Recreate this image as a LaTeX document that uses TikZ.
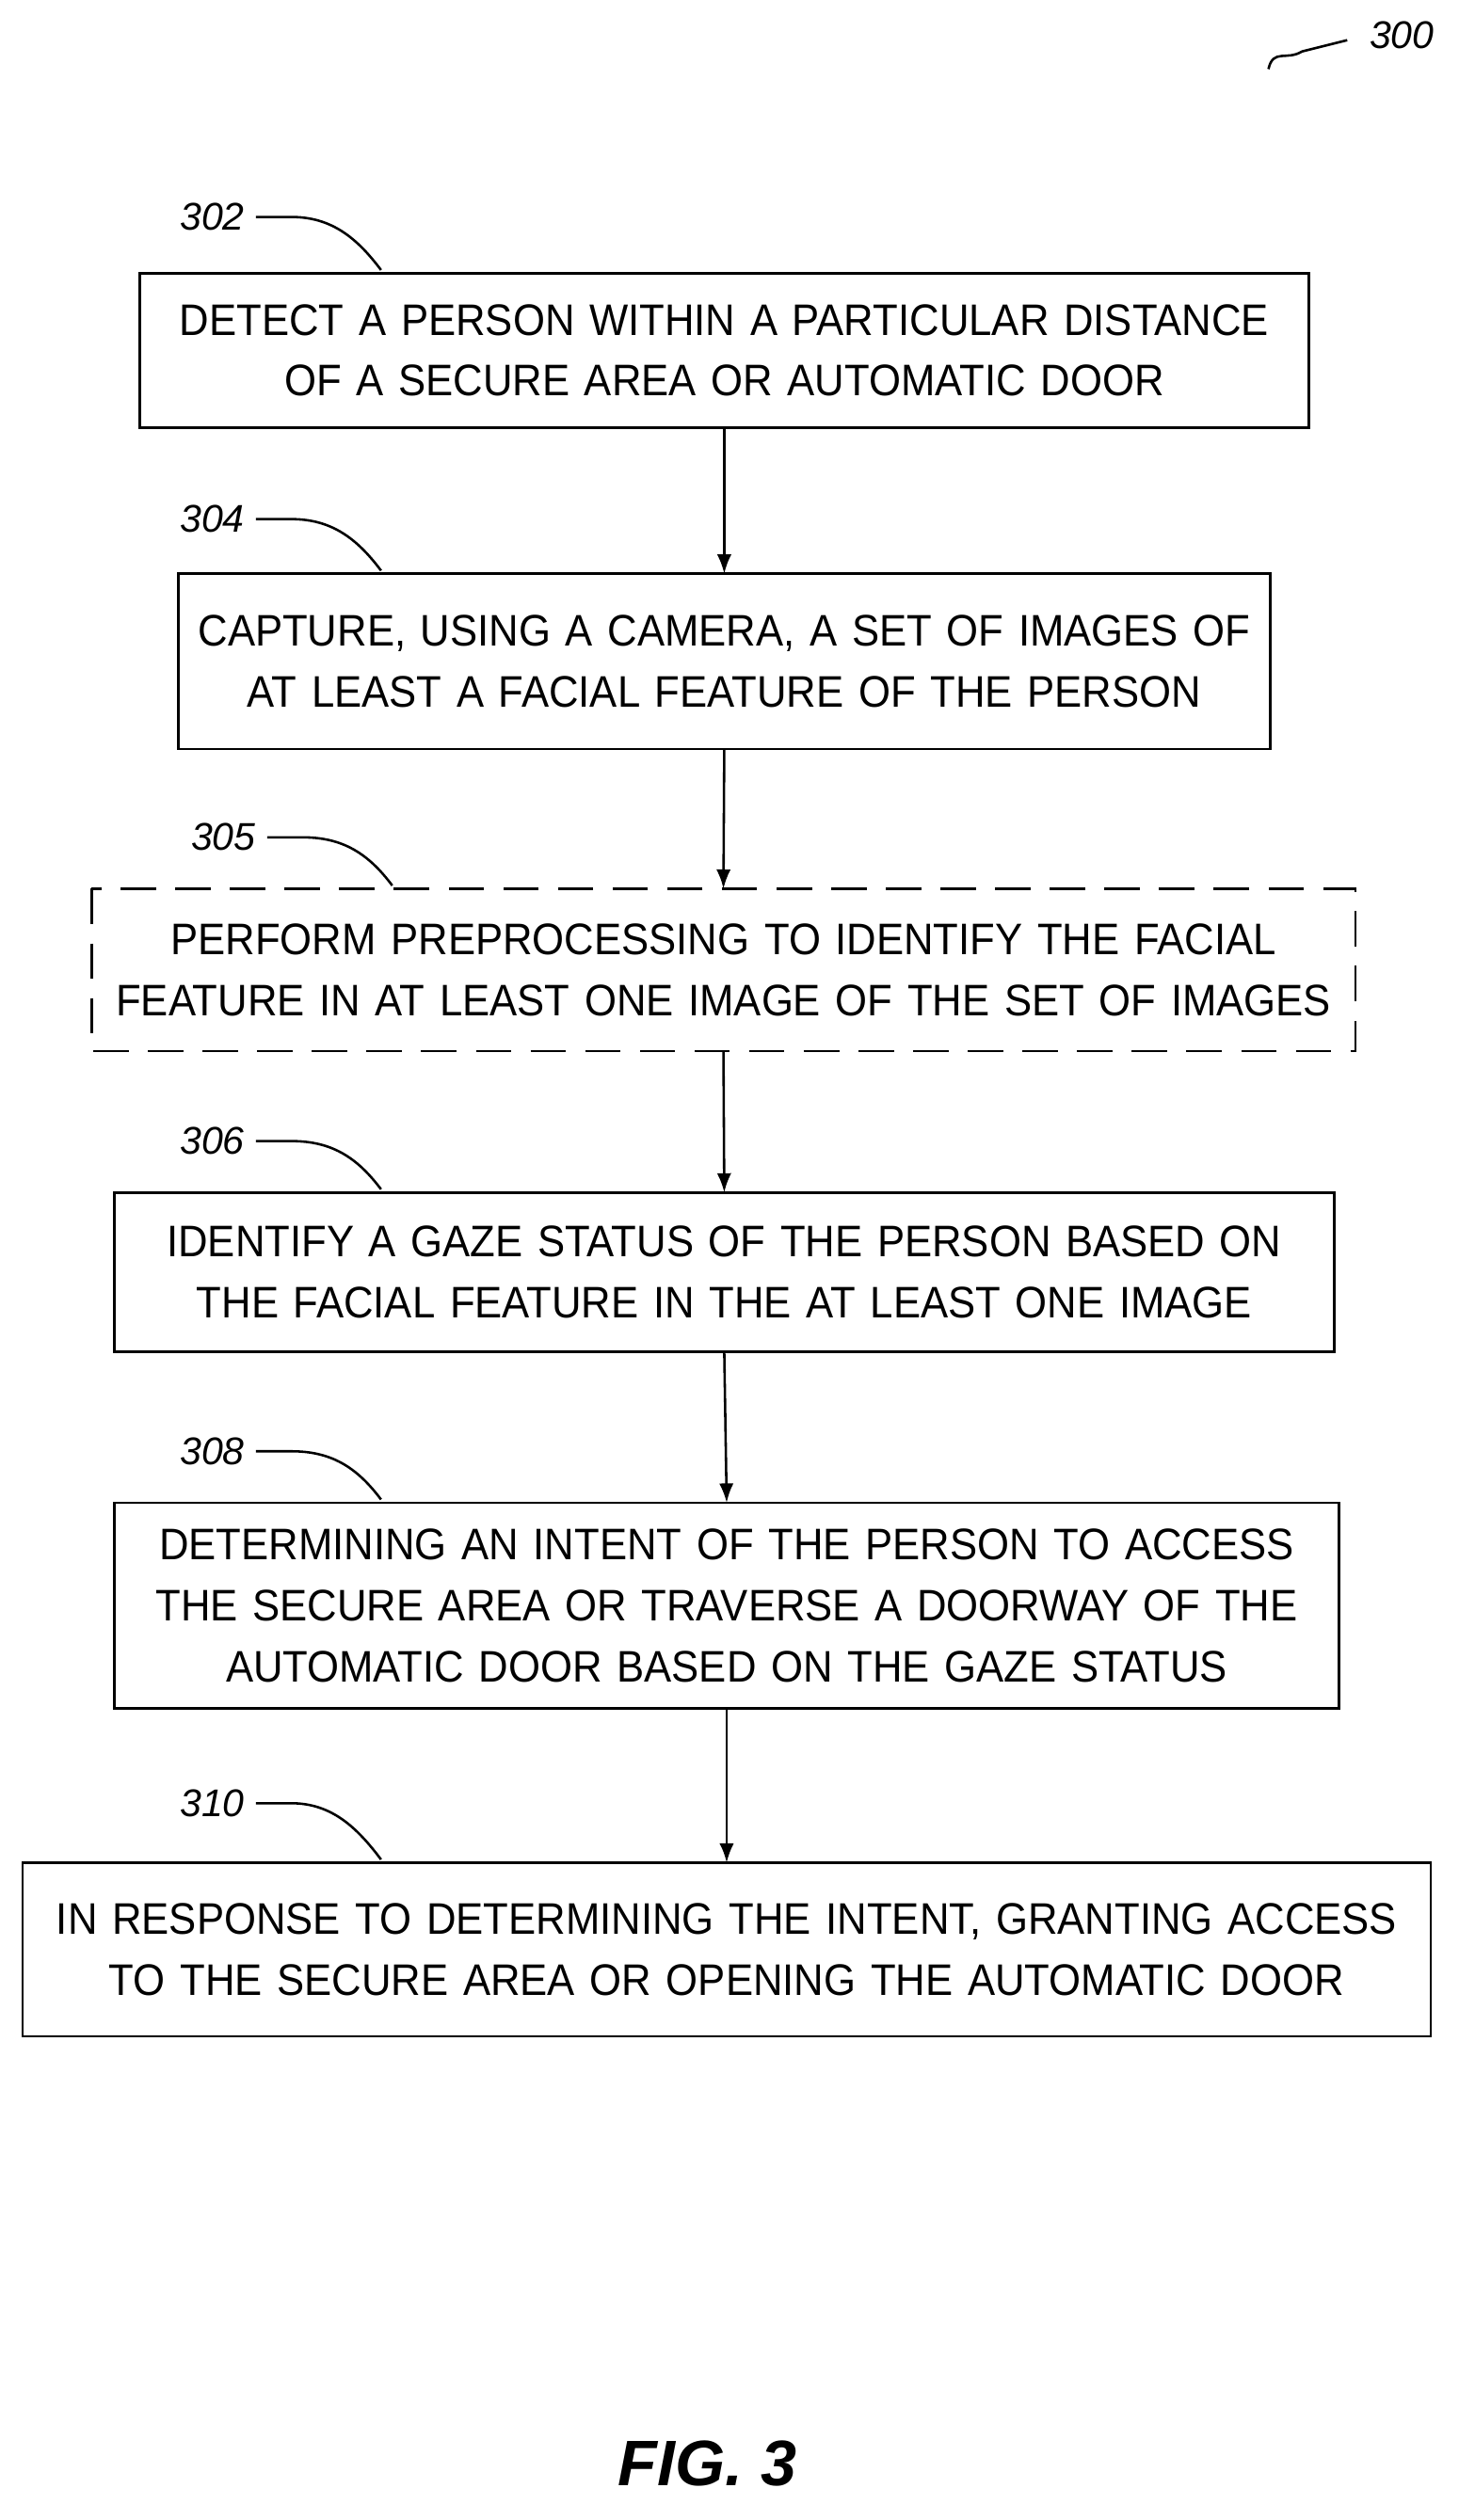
\documentclass[tikz,border=0pt]{standalone}
\usetikzlibrary{arrows.meta}
\usepackage{fontspec}
\setmainfont[FakeStretch=0.93]{Liberation Sans}
\newfontfamily\numfont{Liberation Sans}
\begin{document}
\begin{tikzpicture}[x=1pt,y=-1pt,
  box/.style={draw,line width=1.5pt,font=\fontsize{27.5}{38}\selectfont,align=center,inner sep=0},
  lab/.style={font=\numfont\itshape\fontsize{24}{24}\selectfont,inner sep=1pt},
  lead/.style={line width=1.5pt},
  arr/.style={line width=1.5pt,-{Latex[length=12pt,width=9pt]}}]
\useasboundingbox (0,0) rectangle (907,1568);
\newcommand{\mybox}[7]{%
  \draw[box,#7] (#2,#3) rectangle (#4,#5);
  \node[box,draw=none,text width=#4pt-#2pt] (#1) at ({(#2+#4)/2},{(#3+#5)/2}) {#6};
  \coordinate (#1n) at ({(#2+#4)/2},#3);
  \coordinate (#1s) at ({(#2+#4)/2},#5);}
\mybox{b302}{87}{170}{814}{266}{DETECT A PERSON WITHIN A PARTICULAR DISTANCE\\OF A SECURE AREA OR AUTOMATIC DOOR}{}
\mybox{b304}{111}{357}{790}{466}{CAPTURE, USING A CAMERA, A SET OF IMAGES OF\\AT LEAST A FACIAL FEATURE OF THE PERSON}{}
\mybox{b305}{57}{553}{843}{654}{PERFORM PREPROCESSING TO IDENTIFY THE FACIAL\\FEATURE IN AT LEAST ONE IMAGE OF THE SET OF IMAGES}{dash pattern=on 22pt off 12pt}
\mybox{b306}{71}{742}{830}{841}{IDENTIFY A GAZE STATUS OF THE PERSON BASED ON\\THE FACIAL FEATURE IN THE AT LEAST ONE IMAGE}{}
\mybox{b308}{71}{935}{833}{1063}{DETERMINING AN INTENT OF THE PERSON TO ACCESS\\THE SECURE AREA OR TRAVERSE A DOORWAY OF THE\\AUTOMATIC DOOR BASED ON THE GAZE STATUS}{}
\mybox{b310}{14}{1159}{890}{1267}{IN RESPONSE TO DETERMINING THE INTENT, GRANTING ACCESS\\TO THE SECURE AREA OR OPENING THE AUTOMATIC DOOR}{}
\draw[arr] (b302s) -- (b304n);
\draw[arr] (b304s) -- (b305n);
\draw[arr] (b305s) -- (b306n);
\draw[arr] (b306s) -- (b308n);
\draw[arr] (b308s) -- (b310n);
\foreach \n/\y/\x/\t in {302/135/132/170,304/323/132/357,305/521/139/553,306/710/132/742,308/903/132/935,310/1122/132/1159}{
  \node[lab] (l\n) at (\x,\y) {\n};
  \coordinate (e\n) at (\x+105,\t-2);
  \draw[lead] (l\n.east)++(6,0) -- ++(22,0) .. controls ++(25,0) and ++(-15,-20) .. (e\n);
}
\node[lab] (l300) at (872,22) {300};
\coordinate (c300) at (789,43);
\draw[lead] (c300) .. controls (792,30) and (800,38) .. (810,32) -- (838,25);
\node[font=\numfont\itshape\bfseries\fontsize{40}{40}\selectfont] (fig) at (440,1533) {FIG. 3};
\end{tikzpicture}
\end{document}
